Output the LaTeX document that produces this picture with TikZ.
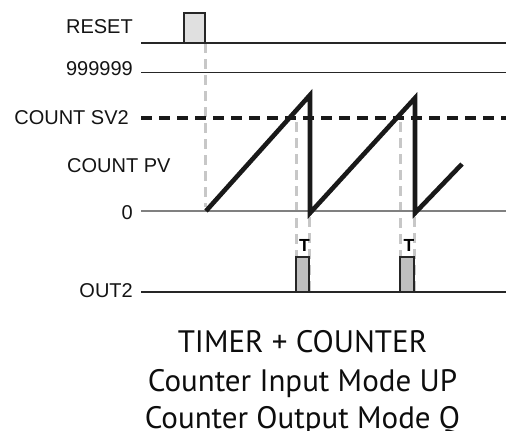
\documentclass[tikz,border=0pt]{standalone}
\usepackage{fontspec}
\setmainfont{Liberation Sans}
\newfontfamily\capfont{PT Sans}
\begin{document}
\begin{tikzpicture}[x=1pt,y=-1pt,
  lbl/.style={inner sep=0pt, font=\fontsize{20}{20}\selectfont, text=black!92},
  tlbl/.style={inner sep=0pt, font=\fontsize{17.5}{17.5}\selectfont\bfseries},
  axisline/.style={line width=1.4pt, draw=black!85},
  zeroline/.style={line width=1.4pt, draw=black!50},
  svline/.style={line width=3.2pt, draw=black!90, dash pattern=on 11pt off 7pt},
  guide/.style={line width=3pt, draw=black!22, dash pattern=on 10pt off 6pt},
  saw/.style={line width=4.6pt, draw=black!90, line join=miter, miter limit=20},
  resetpulse/.style={draw=black!85, line width=1.2pt, fill=black!12},
  outpulse/.style={draw=black!85, line width=1.2pt, fill=black!25},
  caption/.style={inner sep=0pt, font=\capfont\fontsize{31}{31}\selectfont, text=black!95}
]
\useasboundingbox (0,0) rectangle (506,431);

% labels
\node[lbl, anchor=base east] (lreset) at (133,34) {RESET};
\node[lbl, anchor=base east] (lmax) at (133,75) {999999};
\node[lbl, anchor=base east] (lsv) at (129,124) {COUNT SV2};
\node[lbl, anchor=base west] (lpv) at (67,172) {COUNT PV};
\node[lbl, anchor=base east] (lzero) at (133,219) {0};
\node[lbl, anchor=base east] (lout) at (133,297) {OUT2};

% coordinates
\coordinate (resetA) at (141,43);  \coordinate (resetB) at (506,43);
\coordinate (maxA) at (141,72.5);  \coordinate (maxB) at (506,72.5);
\coordinate (svA) at (141,118);    \coordinate (svB) at (506,118);
\coordinate (zeroA) at (141,211);  \coordinate (zeroB) at (506,211);
\coordinate (outA) at (141,292);   \coordinate (outB) at (506,292);

% guide lines
\draw[guide] (205,43) -- (205,207);
\draw[guide] (296,122) -- (296,292);
\draw[guide] (309,217) -- (309,294);
\draw[guide] (400,122) -- (400,292);
\draw[guide] (414,217) -- (414,294);

% horizontal lines
\draw[axisline] (resetA) -- (resetB);
\draw[axisline] (maxA) -- (maxB);
\draw[zeroline] (zeroA) -- (zeroB);
\draw[axisline] (outA) -- (outB);
\draw[svline] (svA) -- (svB);

% sawtooth
\coordinate (s0) at (206,211);
\coordinate (p1) at (310,95);
\coordinate (b1) at (310,213);
\coordinate (p2) at (415,98);
\coordinate (b2) at (415,213);
\coordinate (s3) at (462,164);
\draw[saw] (s0) -- (p1) -- (b1) -- (p2) -- (b2) -- (s3);

% pulses
\draw[resetpulse] (184,43) rectangle (205,13);
\draw[outpulse] (296,292) rectangle (309,257);
\draw[outpulse] (400,292) rectangle (414,257);

% T labels
\node[tlbl, anchor=base] (t1) at (304.5,251) {T};
\node[tlbl, anchor=base] (t2) at (409,251) {T};

% caption
\node[caption, anchor=base] (c1) at (302.5,352) {TIMER + COUNTER};
\node[caption, anchor=base] (c2) at (302.5,391) {Counter Input Mode UP};
\node[caption, anchor=base] (c3) at (302.5,428) {Counter Output Mode Q};
\end{tikzpicture}
\end{document}
